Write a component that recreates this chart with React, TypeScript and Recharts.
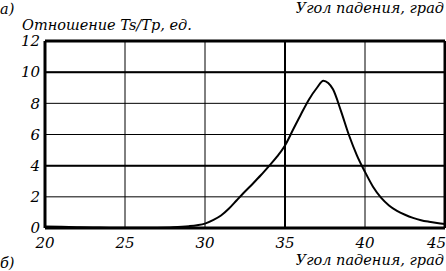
import React from 'react';
import { LineChart, Line, XAxis, YAxis, CartesianGrid, ReferenceLine } from 'recharts';

// angle of incidence, deg
const angles = [
  20, 21, 22, 23, 24, 25, 26, 27, 28, 29, 29.5, 30, 30.5, 31, 31.5, 32, 32.5, 33, 33.5, 34, 34.5,
  35, 35.5, 36, 36.5, 37, 37.4, 37.7, 38, 38.5, 39, 39.5, 40, 40.5, 41, 41.5, 42, 42.5, 43, 43.5,
  44, 44.5, 45,
];
// Ts/Tp ratio
const ratio = [
  0.1, 0.08, 0.05, 0.03, 0.02, 0.01, 0.01, 0.02, 0.05, 0.12, 0.18, 0.28, 0.5, 0.8, 1.25, 1.8, 2.34,
  2.86, 3.4, 3.98, 4.58, 5.3, 6.3, 7.3, 8.25, 9.0, 9.45, 9.3, 8.9, 7.5, 5.95, 4.65, 3.6, 2.65, 1.95,
  1.45, 1.1, 0.85, 0.65, 0.5, 0.4, 0.32, 0.25,
];
const xTicks = [20, 25, 30, 35, 40, 45];
const yTicks = [0, 2, 4, 6, 8, 10, 12];
const thickX = [20, 35, 45];
const thickY = [0, 4, 10, 12];

const data = angles.map((a, i) => ({ angle: a, ratio: ratio[i] }));

const font = '"DejaVu Serif", serif';
const tickStyle = { fontFamily: font, fontStyle: 'italic', fontSize: 15, fill: '#000' };

// last x tick sits on the right edge, so pull it inside
const XTick = (props: any) => {
  const { x, y, payload } = props;
  const last = payload.value === xTicks[xTicks.length - 1];
  return (
    <text x={last ? x + 1 : x} y={y + 12} textAnchor={last ? 'end' : 'middle'} {...tickStyle}>
      {payload.value}
    </text>
  );
};

const label = (extra: React.CSSProperties): React.CSSProperties => ({
  position: 'absolute',
  fontFamily: font,
  fontStyle: 'italic',
  fontSize: 14.5,
  lineHeight: '16px',
  color: '#000',
  whiteSpace: 'nowrap',
  ...extra,
});

export default function App() {
  return (
    <div style={{ position: 'absolute', left: 0, top: 0, width: 446, height: 271, background: '#fff', overflow: 'hidden' }}>
      <LineChart width={446} height={271} data={data} margin={{ top: 41, right: 1, bottom: 0, left: 0 }}>
        <CartesianGrid stroke="#000" strokeWidth={1} strokeOpacity={1} />
        <XAxis
          dataKey="angle"
          type="number"
          domain={[20, 45]}
          ticks={xTicks}
          axisLine={false}
          tickLine={false}
          tickSize={6}
          tickMargin={2}
          height={43}
          tick={<XTick />}
          interval={0}
        />
        <YAxis
          type="number"
          domain={[0, 12]}
          ticks={yTicks}
          axisLine={false}
          tickLine={false}
          tickSize={5}
          tickMargin={0}
          width={45}
          tick={tickStyle}
          interval={0}
        />
        {thickX.map((x) => (
          <ReferenceLine key={'x' + x} x={x} stroke="#000" strokeWidth={x === 35 ? 2 : 3} />
        ))}
        {thickY.map((y) => (
          <ReferenceLine key={'y' + y} y={y} stroke="#000" strokeWidth={y === 0 || y === 12 ? 3 : 2} />
        ))}
        <Line
          type="monotone"
          dataKey="ratio"
          stroke="#000"
          strokeWidth={2}
          dot={false}
          isAnimationActive={false}
        />
      </LineChart>
      <div style={label({ left: 0, top: 1 })}>а)</div>
      <div style={label({ right: 2, top: 0 })}>Угол падения, град</div>
      <div style={label({ left: 22, top: 17 })}>Отношение Ts/Tp, ед.</div>
      <div style={label({ right: 2, top: 252 })}>Угол падения, град</div>
      <div style={label({ left: 0, top: 255 })}>б)</div>
    </div>
  );
}
